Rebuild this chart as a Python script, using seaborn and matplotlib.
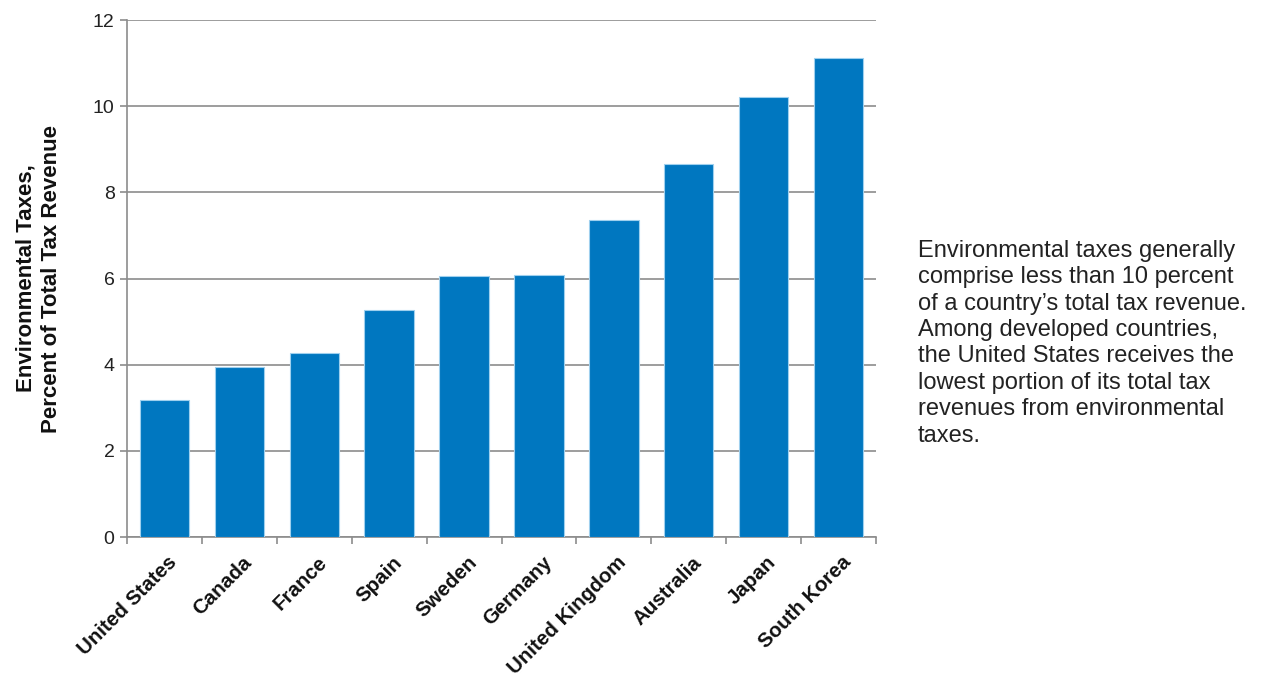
import numpy as np
import pandas as pd
import seaborn as sns
import matplotlib
matplotlib.use('Agg')
import matplotlib.pyplot as plt
from matplotlib.transforms import ScaledTranslation

countries = ['United States', 'Canada', 'France', 'Spain', 'Sweden', 'Germany',
             'United Kingdom', 'Australia', 'Japan', 'South Korea']
env_tax_share = [3.19, 3.95, 4.26, 5.28, 6.05, 6.09, 7.37, 8.65, 10.21, 11.12]
y_ticks = [0, 2, 4, 6, 8, 10, 12]

note = ("Environmental taxes generally\n"
        "comprise less than 10 percent\n"
        "of a country\u2019s total tax revenue.\n"
        "Among developed countries,\n"
        "the United States receives the\n"
        "lowest portion of its total tax\n"
        "revenues from environmental\n"
        "taxes.")

sns.set_style('white')
plt.rcParams['font.family'] = ['Liberation Sans', 'DejaVu Sans']

df = pd.DataFrame({'country': countries, 'share': env_tax_share})

fig = plt.figure(figsize=(12.69, 6.79), dpi=100)
ax = fig.add_axes([0.1001, 0.2091, 0.5902, 0.7614])

sns.barplot(data=df, x='country', y='share', color='#0077C0', saturation=1,
            width=0.66, edgecolor='#9fd0ee', linewidth=0.8, ax=ax, zorder=3)

ax.set_ylim(0, 12)
ax.set_xlim(-0.5, len(countries) - 0.5)
ax.set_yticks(y_ticks)
ax.set_yticklabels([str(t) for t in y_ticks], fontsize=14, color='#222222')
ax.yaxis.grid(True, color='#8c8c8c', linewidth=1.2, zorder=0)
ax.set_axisbelow(True)

for s in ['top', 'right']:
    ax.spines[s].set_visible(False)
for s in ['left', 'bottom']:
    ax.spines[s].set_color('#8c8c8c')
    ax.spines[s].set_linewidth(1.2)

ax.tick_params(axis='y', length=5, color='#8c8c8c', width=1.2, direction='out', left=True, pad=4)
ax.tick_params(axis='x', which='major', length=0, pad=2)
ax.set_xticks(np.arange(-0.5, len(countries), 1), minor=True)
ax.tick_params(axis='x', which='minor', length=5, color='#8c8c8c', width=1.2, direction='out', bottom=True)

ax.set_xticks(range(len(countries)))
ax.set_xticklabels(countries, rotation=45, ha='right', rotation_mode='anchor',
                   fontsize=14.8, fontweight='bold', color='#111111')
for lbl in ax.get_xticklabels():
    lbl.set_transform(lbl.get_transform() + ScaledTranslation(0.03, -0.13, fig.dpi_scale_trans))

ax.set_xlabel('')
ax.set_ylabel('Environmental Taxes,\nPercent of Total Tax Revenue', fontsize=16,
              fontweight='bold', linespacing=1.3, color='#111111')
ax.yaxis.set_label_coords(-0.087, 0.5)

fig.text(0.7235, 0.647, note, fontsize=17, va='top', ha='left', linespacing=1.26,
         color='#222222')

fig.savefig('out.png', dpi=100)
